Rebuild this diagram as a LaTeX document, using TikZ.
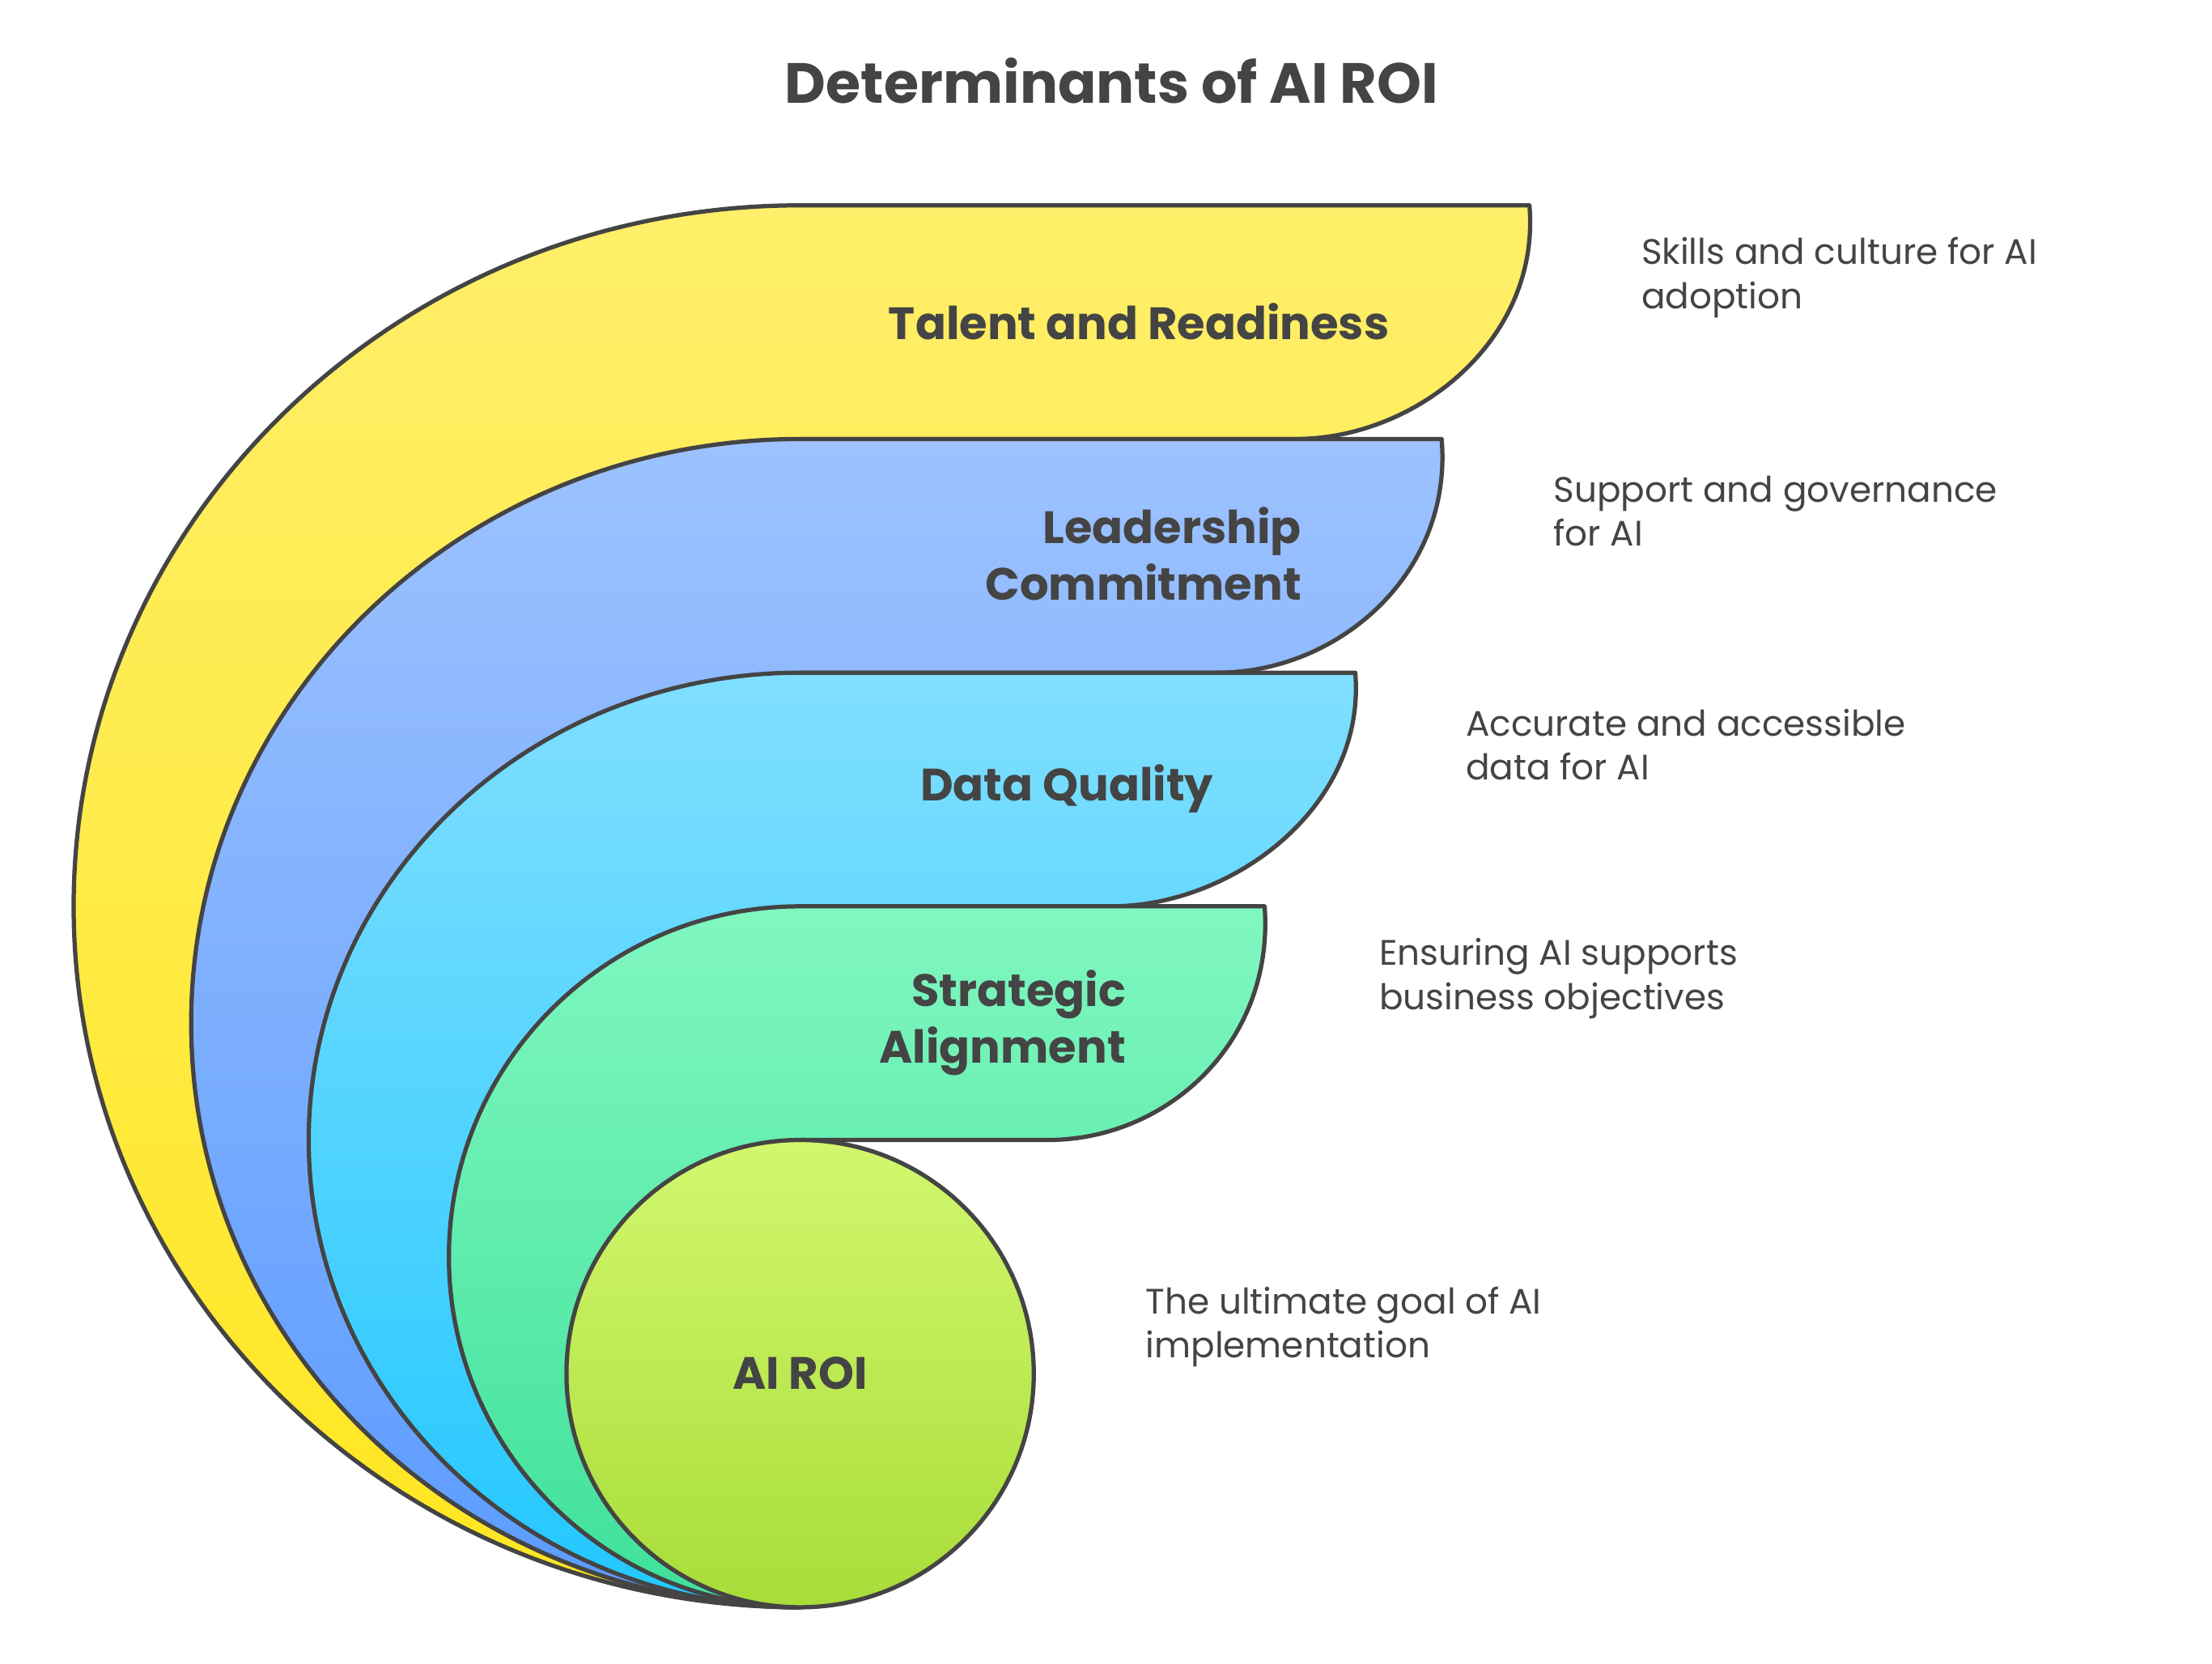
\documentclass[tikz,border=0pt]{standalone}
\usepackage{fontspec}
\setmainfont{Poppins}
\definecolor{ink}{HTML}{444444}
\definecolor{yT}{HTML}{FFEF6A}\definecolor{yB}{HTML}{FFE620}
\definecolor{bT}{HTML}{9DC2FF}\definecolor{bB}{HTML}{5B9BFF}
\definecolor{cT}{HTML}{80DFFF}\definecolor{cB}{HTML}{22C7FF}
\definecolor{gT}{HTML}{80F7C0}\definecolor{gB}{HTML}{3EE09A}
\definecolor{lT}{HTML}{D2F76E}\definecolor{lB}{HTML}{A8DD38}
\begin{document}
\begin{tikzpicture}[x=0.5pt,y=-0.5pt,
 band/.style={draw=ink,line width=1.5pt,line join=round},
 lab/.style={text=ink,font=\fontsize{16}{20}\selectfont\bfseries,align=right,anchor=east},
 desc/.style={text=ink,font=\fontsize{12.5}{15.5}\selectfont,align=left,anchor=west}]
\useasboundingbox (0,0) rectangle (1562,1175);
\node[text=ink,font=\fontsize{20}{24}\selectfont\bfseries] (title) at (785,57) {Determinants of AI ROI};
\shade[band,top color=yT,bottom color=yB]
 (565,1135) arc[start angle=90,end angle=270,x radius=513,y radius=495] -- (1080,145)
 .. controls (1088,240) and (1000,310) .. (915,310) -- (565,310) -- cycle;
\shade[band,top color=bT,bottom color=bB]
 (565,1135) arc[start angle=90,end angle=270,x radius=430,y radius=412.5] -- (1018,310)
 .. controls (1026,405) and (945,475) .. (860,475) -- (565,475) -- cycle;
\shade[band,top color=cT,bottom color=cB]
 (565,1135) arc[start angle=90,end angle=270,x radius=347,y radius=330] -- (957,475)
 .. controls (965,570) and (870,640) .. (785,640) -- (565,640) -- cycle;
\shade[band,top color=gT,bottom color=gB]
 (565,1135) arc[start angle=90,end angle=270,x radius=248,y radius=247.5] -- (893,640)
 .. controls (900,735) and (825,805) .. (740,805) -- (565,805) -- cycle;
\shade[band,top color=lT,bottom color=lB] (565,970) circle[radius=165];
\node[lab] (t1) at (988,227) {Talent and Readiness};
\node[lab] (t2) at (926,391) {Leadership\\Commitment};
\node[lab] (t3) at (864,557) {Data Quality};
\node[lab] (t4) at (802,722) {Strategic\\Alignment};
\node[text=ink,font=\fontsize{16}{20}\selectfont\bfseries] (t5) at (565,970) {AI ROI};
\node[desc] (d1) at (1152,196) {Skills and culture for AI\\adoption};
\node[desc] (d2) at (1090,361) {Support and governance\\for AI};
\node[desc] (d3) at (1028,526) {Accurate and accessible\\data for AI};
\node[desc] (d4) at (967,691) {Ensuring AI supports\\business objectives};
\node[desc] (d5) at (802,937) {The ultimate goal of AI\\implementation};
\end{tikzpicture}
\end{document}
